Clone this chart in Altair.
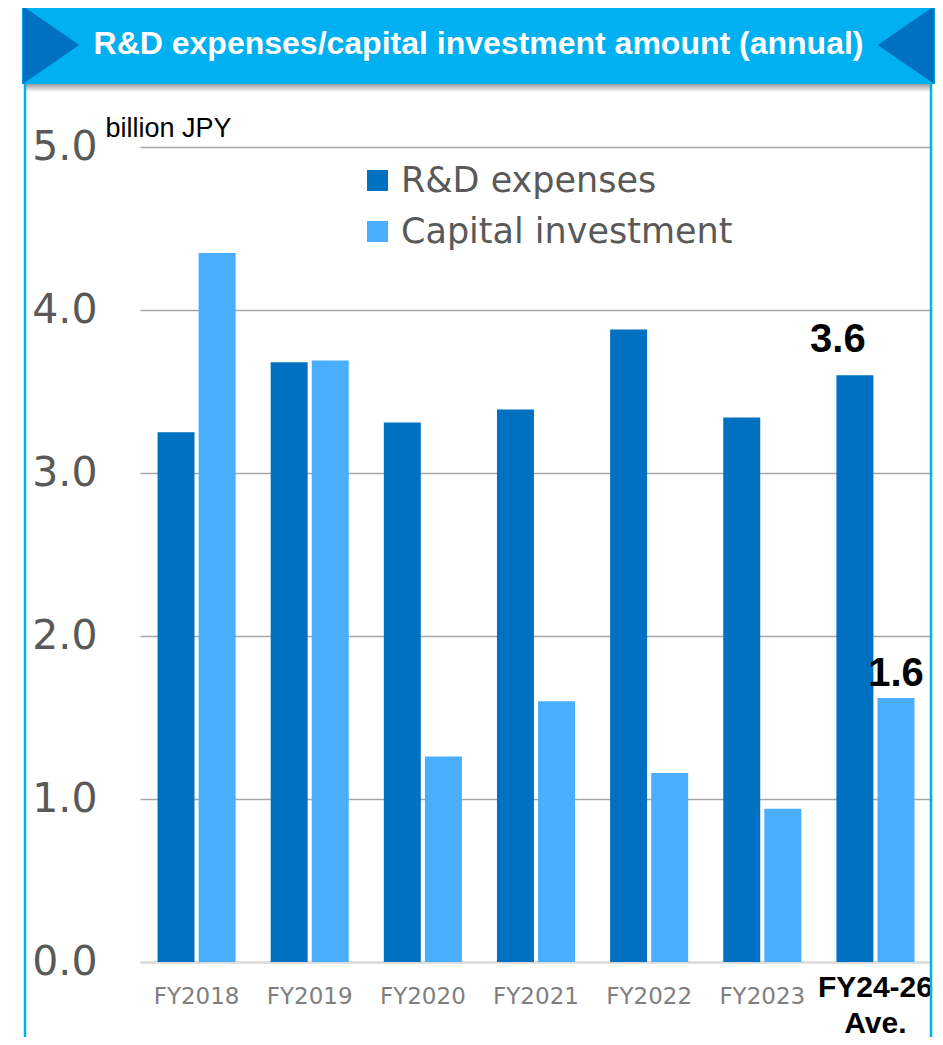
import altair as alt
import pandas as pd

categories = ["FY2018", "FY2019", "FY2020", "FY2021", "FY2022", "FY2023", "FY24-26 Ave."]
rd_expenses = [3.25, 3.68, 3.31, 3.39, 3.88, 3.34, 3.60]
capital_investment = [4.35, 3.69, 1.26, 1.60, 1.16, 0.94, 1.62]
series_names = ["R&D expenses", "Capital investment"]
series_colors = ["#0070C0", "#4AAEFF"]
title_text = "R&D expenses/capital investment amount (annual)"
unit_text = "billion JPY"
y_ticks = [0, 1, 2, 3, 4, 5]

rows = []
for c, a, b in zip(categories, rd_expenses, capital_investment):
    rows.append({"cat": c, "series": series_names[0], "value": a})
    rows.append({"cat": c, "series": series_names[1], "value": b})
df = pd.DataFrame(rows)

last = categories[-1]
lab_rd = pd.DataFrame([{"cat": last, "series": series_names[0], "value": rd_expenses[-1],
                        "label": f"{rd_expenses[-1]:.1f}"}])
lab_cap = pd.DataFrame([{"cat": last, "series": series_names[1], "value": capital_investment[-1],
                         "label": f"{capital_investment[-1]:.1f}"}])

is_last = "datum.value == 'FY24-26 Ave.'"
x_axis = alt.Axis(title=None, labelAngle=0, domain=False, ticks=False, tickSize=0, grid=False,
                  labelPadding=34,
                  labelBaseline={"condition": {"test": is_last, "value": "alphabetic"}, "value": "middle"},
                  labelExpr="datum.value == 'FY24-26 Ave.' ? ['FY24-26', 'Ave.'] : datum.label",
                  labelLineHeight=36,
                  labelFont={"condition": {"test": is_last, "value": "Liberation Sans"}, "value": "DejaVu Sans"},
                  labelFontSize={"condition": {"test": is_last, "value": 30}, "value": 23},
                  labelFontWeight={"condition": {"test": is_last, "value": "bold"}, "value": "normal"},
                  labelColor={"condition": {"test": is_last, "value": "#000000"}, "value": "#7F7F7F"})
y_axis = alt.Axis(values=y_ticks, format=".1f", domain=False, ticks=False, tickSize=0,
                  labelPadding=43, labelFont="DejaVu Sans", labelFontSize=41,
                  labelColor="#595959", labelBaseline="middle",
                  gridColor={"condition": {"test": "datum.value == 0", "value": "#D9D9D9"}, "value": "#A6A6A6"},
                  gridWidth={"condition": {"test": "datum.value == 0", "value": 2.5}, "value": 1.3},
                  title=unit_text, titleAngle=0, titleAlign="left", titleBaseline="alphabetic",
                  titleX=-35, titleY=-11, titleFont="Liberation Sans", titleFontSize=27,
                  titleFontWeight="normal", titleColor="#000000")
x_scale = alt.Scale(paddingInner=0.31, paddingOuter=0.155)
xo_scale = alt.Scale(paddingInner=0.1)
y_scale = alt.Scale(domain=[0, 5], nice=False)

bars = alt.Chart(df).mark_bar().encode(
    x=alt.X("cat:N", sort=categories, scale=x_scale, axis=x_axis),
    xOffset=alt.XOffset("series:N", sort=series_names, scale=xo_scale),
    y=alt.Y("value:Q", scale=y_scale, axis=y_axis),
    color=alt.Color("series:N", sort=series_names,
                    scale=alt.Scale(domain=series_names, range=series_colors),
                    legend=alt.Legend(title=None, orient="none", legendX=220, legendY=16,
                                      symbolType="square", symbolSize=441, symbolStrokeWidth=0,
                                      labelFont="DejaVu Sans", labelFontSize=35, labelColor="#595959",
                                      labelLimit=0, rowPadding=15, labelOffset=6, padding=0)),
)

t_rd = alt.Chart(lab_rd).mark_text(font="Liberation Sans", fontSize=40, fontWeight="bold",
                                   color="#000000", baseline="alphabetic", dx=-17, dy=-23).encode(
    x=alt.X("cat:N", sort=categories, scale=x_scale, axis=x_axis),
    xOffset=alt.XOffset("series:N", sort=series_names, scale=xo_scale),
    y=alt.Y("value:Q", scale=y_scale, axis=y_axis), text="label:N")
t_cap = alt.Chart(lab_cap).mark_text(font="Liberation Sans", fontSize=40, fontWeight="bold",
                                     color="#000000", baseline="alphabetic", dx=0, dy=-12).encode(
    x=alt.X("cat:N", sort=categories, scale=x_scale, axis=x_axis),
    xOffset=alt.XOffset("series:N", sort=series_names, scale=xo_scale),
    y=alt.Y("value:Q", scale=y_scale, axis=y_axis), text="label:N")

one = pd.DataFrame({"k": [0]})
# decorations (banner, frame)
banner = alt.Chart(one).mark_rect(color="#00B0F0").encode(
    x=alt.value(-118), x2=alt.value(795), y=alt.value(-141), y2=alt.value(-63))
shadow = alt.Chart(one).mark_rect(
    color=alt.Gradient(gradient="linear", x1=0, x2=0, y1=0, y2=1,
                       stops=[alt.GradientStop(color="#9a9a9a", offset=0),
                              alt.GradientStop(color="#ffffff", offset=1)])).encode(
    x=alt.value(-114), x2=alt.value(791), y=alt.value(-63), y2=alt.value(-55))
tri_left = alt.Chart(one).mark_point(shape="M-0.725,-1L0.725,0L-0.725,1Z", filled=True,
                                     opacity=1, color="#0070C0", size=6084, strokeWidth=0).encode(
    x=alt.value(-89), y=alt.value(-102))
tri_right = alt.Chart(one).mark_point(shape="M0.725,-1L-0.725,0L0.725,1Z", filled=True,
                                      opacity=1, color="#0070C0", size=6084, strokeWidth=0).encode(
    x=alt.value(766), y=alt.value(-102))
title = alt.Chart(one).mark_text(font="Liberation Sans", fontSize=32, fontWeight="bold",
                                 color="#FFFFFF", baseline="middle", align="center").encode(
    x=alt.value(338.5), y=alt.value(-103), text=alt.value(title_text))
frame_l = alt.Chart(one).mark_rule(color="#00B0F0", strokeWidth=2.5).encode(
    x=alt.value(-115), y=alt.value(-63), y2=alt.value(890))
frame_r = alt.Chart(one).mark_rule(color="#00B0F0", strokeWidth=2.5).encode(
    x=alt.value(791), y=alt.value(-63), y2=alt.value(890))

chart = alt.layer(bars, t_rd, t_cap, shadow, banner, tri_left, tri_right, title, frame_l, frame_r).properties(
    width=792, height=815,
    autosize=alt.AutoSizeParams(type="none"),
    padding={"left": 132, "top": 139, "right": 3, "bottom": 75},
    background="#FFFFFF",
).configure_view(stroke="transparent", strokeWidth=0)

chart.save("out.html", embed_options={"renderer": "svg", "actions": False})
